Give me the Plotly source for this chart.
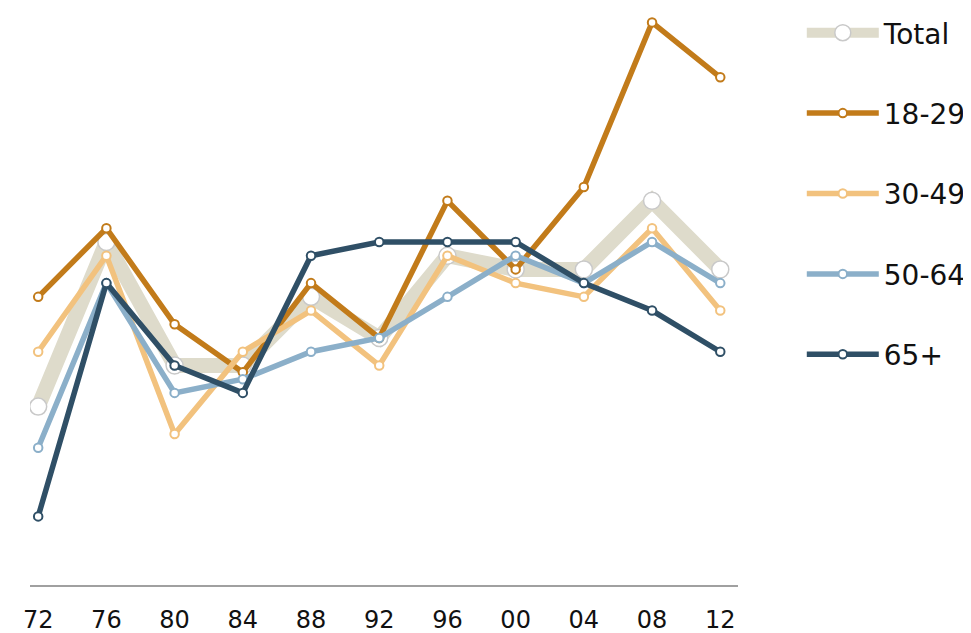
import plotly.graph_objects as go

years = ["72", "76", "80", "84", "88", "92", "96", "00", "04", "08", "12"]
total = [38, 50, 41, 41, 46, 43, 49, 48, 48, 53, 48]
age_18_29 = [46, 51, 44, 40.5, 47, 43, 53, 48, 54, 66, 62]
age_30_49 = [42, 49, 36, 42, 45, 41, 49, 47, 46, 51, 45]
age_50_64 = [35, 47, 39, 40, 42, 43, 46, 49, 47, 50, 47]
age_65_plus = [30, 47, 41, 39, 49, 50, 50, 50, 47, 45, 42]

series = [
    ("18-29", age_18_29, "#C27B1A"),
    ("30-49", age_30_49, "#F2C27E"),
    ("50-64", age_50_64, "#8BAFC9"),
    ("65+", age_65_plus, "#2F4F66"),
]

xs = list(range(len(years)))
fig = go.Figure()

fig.add_trace(go.Scatter(
    x=xs, y=total, name="Total", mode="lines+markers",
    line=dict(color="#DEDBCB", width=15),
    marker=dict(size=17, color="white", line=dict(color="#C9C9C9", width=1.5)),
    legendgroup="Total",
))
for name, vals, col in series:
    fig.add_trace(go.Scatter(
        x=xs, y=vals, name=name, mode="lines+markers",
        line=dict(color=col, width=5.5),
        marker=dict(size=8.5, color="white", line=dict(color=col, width=2)),
        legendgroup=name,
    ))

fig.update_layout(
    width=963, height=625,
    margin=dict(l=22, r=231, t=0, b=48),
    paper_bgcolor="white", plot_bgcolor="white",
    font=dict(family="DejaVu Sans", color="#111111"),
    showlegend=True,
    legend=dict(
        x=1.0901, xanchor="left", y=1.0, yanchor="top",
        font=dict(size=28), tracegroupgap=41, itemwidth=72,
        bgcolor="rgba(0,0,0,0)",
    ),
    xaxis=dict(
        range=[-0.12, 10.26], tickvals=xs, ticktext=years,
        showgrid=False, zeroline=False, showline=True,
        linecolor="#A0A0A0", linewidth=2, ticks="",
        ticklabelstandoff=12,
        tickfont=dict(size=24, color="#111111"),
        fixedrange=True,
    ),
    yaxis=dict(
        range=[25, 67.05], visible=False, showgrid=False, zeroline=False,
        fixedrange=True,
    ),
)

fig.write_html("out.html")
